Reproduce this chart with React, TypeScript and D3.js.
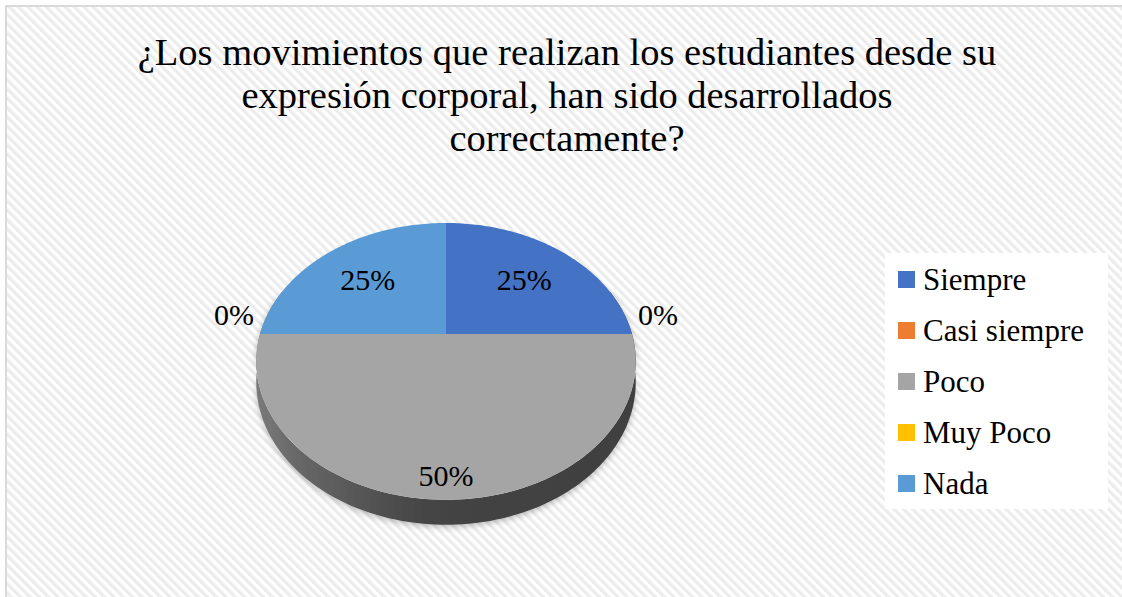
import React from "react";
import * as d3 from "d3";

const titleLines = [
  "¿Los movimientos que realizan los estudiantes desde su",
  "expresión corporal, han sido desarrollados",
  "correctamente?",
];
const categories = ["Siempre", "Casi siempre", "Poco", "Muy Poco", "Nada"];
const values = [25, 0, 50, 0, 25];
const colors = ["#4472C4", "#ED7D31", "#A5A5A5", "#FFC000", "#5B9BD5"];

const W = 1122;
const H = 597;
const FONT = "Liberation Serif";

// perspective pie geometry
const cx = 446;
const cy = 334;
const A = 186;
const B = 133;
const K = 0.198;
const DEPTH = 20;

function project(angle: number, r: number): [number, number] {
  const u = r * Math.sin(angle);
  const v = -r * Math.cos(angle);
  const s = 1 - K * v;
  return [cx + (A * u) / s, cy + (B * v) / s];
}
function depthAt(angle: number): number {
  const v = -Math.cos(angle);
  return DEPTH / (1 - K * v);
}

const textStyle: React.CSSProperties = { fontFamily: FONT };

export default function App() {
  const total = d3.sum(values);
  const pie = d3.pie<number>().sort(null).value((d) => d);
  const arcs = pie(values);
  const line = d3.line<[number, number]>().x((d) => d[0]).y((d) => d[1]);

  const sample = (a0: number, a1: number, n = 90) =>
    d3.range(n + 1).map((i) => a0 + ((a1 - a0) * i) / n);

  const sideAngles = sample(Math.PI / 2 - 0.35, (3 * Math.PI) / 2 + 0.35, 160);
  const topPts = sideAngles.map((a) => project(a, 1));
  const botPts = sideAngles
    .map((a) => {
      const p = project(a, 1);
      return [p[0], p[1] + depthAt(a)] as [number, number];
    })
    .reverse();
  const sidePath = line([...topPts, ...botPts]) + "Z";

  const slicePaths = arcs.map((d) => {
    if (d.endAngle - d.startAngle <= 0) return null;
    const pts = sample(d.startAngle, d.endAngle).map((a) => project(a, 1));
    return line([[cx, cy], ...pts]) + "Z";
  });

  const labels = arcs.map((d, i) => {
    const pct = Math.round((values[i] / total) * 100) + "%";
    const mid = (d.startAngle + d.endAngle) / 2;
    const span = d.endAngle - d.startAngle;
    if (span <= 0) {
      const [x, y] = project(mid, 1);
      const dir = Math.sin(mid) >= 0 ? 1 : -1;
      return { x: x + dir * 26, y: y - 9, text: pct };
    }
    const r = span > Math.PI * 0.9 ? 0.87 : 0.65;
    const [x, y] = project(mid, r);
    return { x, y: y + 12, text: pct };
  });

  const legendX = 885;
  const legendY = 253;
  const itemStep = 51;

  return (
    <svg
      width={W}
      height={H}
      style={{ position: "absolute", left: 0, top: 0, background: "#fff" }}
    >
      <defs>
        <pattern
          id="hatch"
          patternUnits="userSpaceOnUse"
          width={6.6}
          height={10}
          patternTransform="rotate(-45)"
        >
          <rect x={0} y={0} width={6.6} height={10} fill="#ffffff" />
          <rect x={0} y={0} width={3.2} height={10} fill="#ececec" />
        </pattern>
        <linearGradient id="sideGrad" x1={cx - A - 4} x2={cx + A + 4} y1={0} y2={0} gradientUnits="userSpaceOnUse">
          <stop offset="0" stopColor="#7a7a7a" />
          <stop offset="0.12" stopColor="#666666" />
          <stop offset="0.45" stopColor="#444444" />
          <stop offset="1" stopColor="#404040" />
        </linearGradient>
        <filter id="shadow" x="-20%" y="-20%" width="140%" height="140%">
          <feDropShadow dx={0} dy={2} stdDeviation={3} floodColor="#000" floodOpacity={0.28} />
        </filter>
      </defs>
      <rect x={0} y={0} width={W} height={H} fill="#ffffff" />
      <rect x={6} y={6} width={W + 20} height={H + 20} fill="url(#hatch)" stroke="#d9d9d9" strokeWidth={2} />

      {titleLines.map((t, i) => (
        <text key={i} x={567} y={65 + i * 43} textAnchor="middle" fontSize={38.5} fill="#000" style={textStyle}>
          {t}
        </text>
      ))}

      <path d={sidePath} fill="url(#sideGrad)" filter="url(#shadow)" />
      {slicePaths.map((p, i) => (p ? <path key={i} d={p} fill={colors[i]} /> : null))}

      {labels.map((l, i) => (
        <text key={i} x={l.x} y={l.y} textAnchor="middle" fontSize={30} fill="#000" style={textStyle}>
          {l.text}
        </text>
      ))}

      <rect x={legendX} y={legendY} width={223} height={256} fill="#ffffff" />
      {categories.map((c, i) => (
        <g key={c} transform={`translate(${legendX + 13},${legendY + 18 + i * itemStep})`}>
          <rect x={0} y={0} width={17} height={17} fill={colors[i]} />
          <text x={25} y={19} fontSize={31} fill="#000" style={textStyle}>
            {c}
          </text>
        </g>
      ))}
    </svg>
  );
}
